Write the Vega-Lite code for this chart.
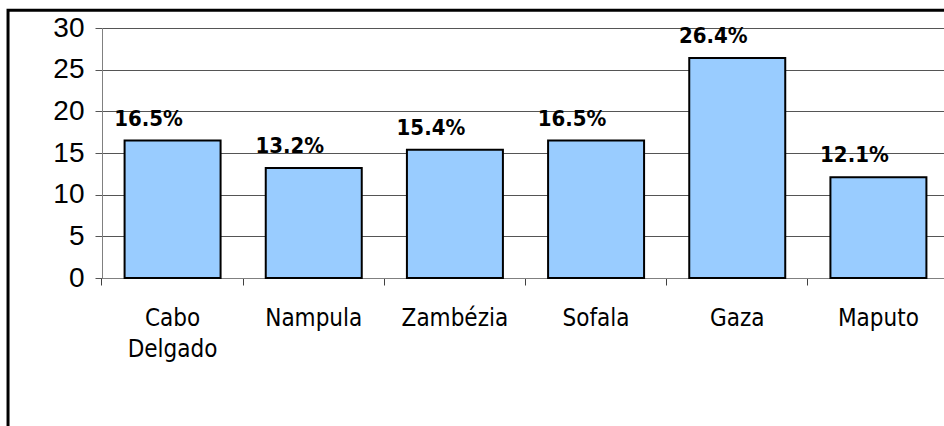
{
  "$schema": "https://vega.github.io/schema/vega-lite/v6.json",
  "width": 842,
  "height": 250,
  "autosize": {"type": "none"},
  "padding": {"left": 102, "top": 28, "right": 0, "bottom": 148},
  "background": "white",
  "config": {"view": {"stroke": null}, "font": "Liberation Sans"},
  "resolve": {"scale": {"x": "independent"}},
  "layer": [
    {
      "data": {"values": [
        {"region": "Cabo Delgado", "value": 16.5},
        {"region": "Nampula", "value": 13.2},
        {"region": "Zambézia", "value": 15.4},
        {"region": "Sofala", "value": 16.5},
        {"region": "Gaza", "value": 26.4},
        {"region": "Maputo", "value": 12.1}
      ]},
      "layer": [
        {
          "mark": {"type": "bar", "fill": "#99CCFF", "stroke": "black", "strokeWidth": 2},
          "encoding": {
            "x": {
              "field": "region", "type": "nominal", "sort": null,
              "scale": {"range": [0, 847], "paddingInner": 0.32, "paddingOuter": 0.16},
              "axis": {
                "title": null, "labelAngle": 0, "bandPosition": -0.236,
                "tickSize": 7, "tickColor": "#404040", "domainColor": "#808080",
                "labelFont": "DejaVu Sans Condensed", "labelFontSize": 24, "labelColor": "black",
                "labelPadding": 21, "labelExpr": "split(datum.label, ' ')", "labelLineHeight": 31,
                "labelBaseline": "top", "grid": false
              }
            },
            "y": {
              "field": "value", "type": "quantitative",
              "scale": {"domain": [0, 30], "nice": false},
              "axis": {
                "title": null, "values": [0, 5, 10, 15, 20, 25, 30], "grid": true,
                "gridColor": "#555555", "gridWidth": 1, "tickSize": 7, "tickColor": "#555555",
                "domainColor": "#808080", "labelFont": "Liberation Sans", "labelFontSize": 28,
                "labelColor": "black", "labelPadding": 11
              }
            }
          }
        },
        {
          "transform": [{"calculate": "format(datum.value, '.1f') + '%'", "as": "label"}],
          "mark": {"type": "text", "font": "DejaVu Sans Condensed", "fontWeight": "bold", "fontSize": 22, "dx": -24, "dy": -15, "baseline": "alphabetic", "align": "center", "color": "black"},
          "encoding": {
            "x": {"field": "region", "type": "nominal", "sort": null},
            "y": {"field": "value", "type": "quantitative", "scale": {"domain": [0, 30], "nice": false}},
            "text": {"field": "label"}
          }
        }
      ]
    },
    {
      "data": {"values": [{}]},
      "mark": {"type": "rect", "fill": null, "stroke": "black", "strokeWidth": 3},
      "encoding": {
        "x": {"datum": -0.1116, "type": "quantitative", "scale": {"domain": [0, 1], "nice": false, "zero": false}, "axis": null},
        "x2": {"datum": 1.01},
        "y": {"datum": 32.14, "type": "quantitative", "scale": {"domain": [0, 30], "nice": false}, "title": null},
        "y2": {"datum": -19}
      }
    }
  ]
}
